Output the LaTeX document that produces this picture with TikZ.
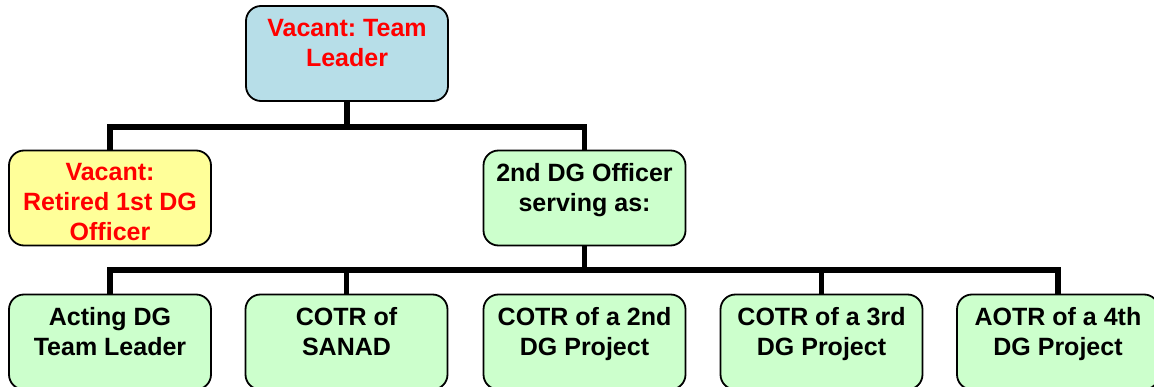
\documentclass[tikz,border=0pt]{standalone}
\usepackage{fontspec}
\usetikzlibrary{backgrounds}
\setmainfont{Liberation Sans}
\frenchspacing
\definecolor{tealbox}{RGB}{183,222,232}
\definecolor{yellowbox}{RGB}{255,255,153}
\definecolor{greenbox}{RGB}{204,255,204}
\definecolor{vacantred}{RGB}{255,0,0}
% fixed-size text block, lines hung from the top of the box
\newcommand{\boxlines}[1]{\parbox[c][95pt][t]{196pt}{\centering\vspace*{13pt}#1}}
\tikzset{
  orgbox/.style={draw=black, line width=1.8pt, rounded corners=15pt, inner sep=0pt,
    minimum width=202pt, minimum height=95pt,
    font=\bfseries\fontsize{25}{30}\selectfont},
  vacant/.style={orgbox, fill=yellowbox, text=vacantred},
  lead/.style={orgbox, fill=tealbox, text=vacantred},
  role/.style={orgbox, fill=greenbox, text=black},
  conn/.style={draw=black, line width=5.5pt, line cap=rect}
}
\begin{document}
\begin{tikzpicture}[x=1pt, y=-1pt]
\useasboundingbox (0,0) rectangle (1154,387);
\clip (0,0) rectangle (1154,387);

% boxes, level by level
\node[lead] (tl) at (347,53.5) {\boxlines{Vacant: Team\\Leader}};

\node[vacant] (ret) at (110,198) {\boxlines{Vacant:\\Retired 1st DG\\Officer}};
\node[role] (dg) at (584.5,198) {\boxlines{2nd DG Officer\\serving as:}};

\node[role] (b1) at (110,342) {\boxlines{Acting DG\\Team Leader}};
\node[role] (b2) at (346.5,342) {\boxlines{COTR of\\SANAD}};
\node[role] (b3) at (584.5,342) {\boxlines{COTR of a 2nd\\DG Project}};
\node[role] (b4) at (821.5,342) {\boxlines{COTR of a 3rd\\DG Project}};
\node[role] (b5) at (1058,342) {\boxlines{AOTR of a 4th\\DG Project}};

% branch points of the two bars
\coordinate (j1) at (tl.south |- 0,127);
\coordinate (j2) at (dg.south |- 0,270);

% connectors, kept behind the boxes
\begin{scope}[on background layer]
  \fill[white] (0,0) rectangle (1154,387);
  \draw[conn] (tl.south) -- (j1);
  \draw[conn] (ret.north) |- (j1) -| (dg.north);
  \draw[conn] (dg.south) -- (j2);
  \draw[conn] (b1.north) |- (j2) -| (b5.north);
  \draw[conn] (b2.north) -- (b2.north |- j2);
  \draw[conn] (b4.north) -- (b4.north |- j2);
\end{scope}
\end{tikzpicture}
\end{document}
